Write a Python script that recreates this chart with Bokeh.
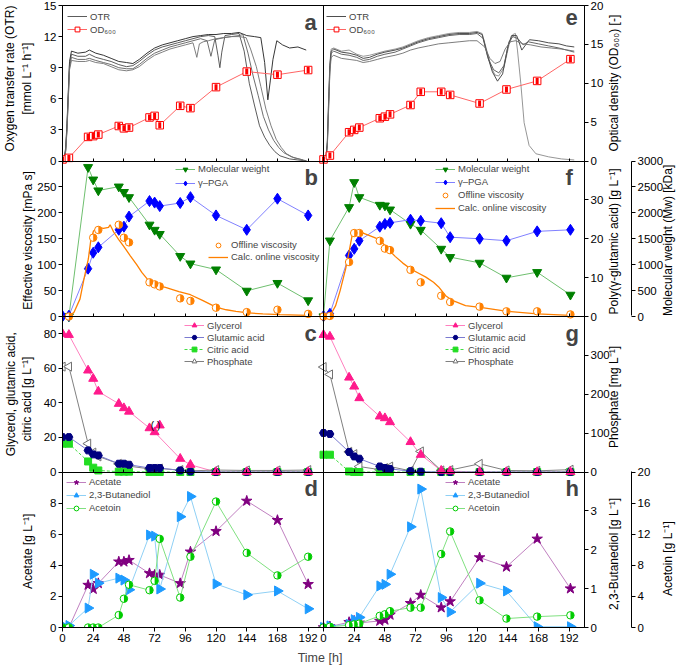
import numpy as np
from bokeh.plotting import figure
from bokeh.models import Range1d, LinearAxis, FixedTicker, Legend, LegendItem, Label
from bokeh.embed import file_html
from bokeh.resources import INLINE
from bokeh.core.properties import value

# ---------------- sampling times (h) ----------------
t_left = [0, 5, 20, 24, 28, 44, 48, 52, 68, 72, 76, 92, 100, 120, 144, 168, 192]
t_right = [0, 5, 20, 24, 28, 44, 48, 52, 68, 76, 92, 99, 122, 143, 167, 193]

# ---------------- a: OTR replicates (mmol L-1 h-1) ----------------
otr_a1_t = [0, 1.5, 2.5, 3.5, 4.5, 5.5, 7, 12, 18, 21, 26, 32, 38, 44, 50, 55, 60, 66, 72, 78, 84, 90, 96, 102, 108, 114, 120,
            126, 132, 138, 144, 150, 155, 158, 160.5, 162.5, 164.5, 167.5, 172, 177.5, 184, 190.5]
otr_a1 = [0, 0.4, 1.3, 3.6, 6.6, 9.6, 10.6, 10.4, 10.5, 10.7, 10.4, 10.2, 9.9, 9.6, 9.5, 9.4, 9.8, 10.4, 10.9, 11.2, 11.4, 11.6,
          11.8, 12.0, 12.1, 12.2, 12.2, 12.3, 12.3, 12.4, 12.1, 12.0, 11.9, 9.5, 5.9, 7.8, 9.8, 11.6, 11.2, 10.9, 11.0, 10.7]
otr_a2_t = [0, 1.5, 2.5, 3.5, 4.5, 5.5, 7, 12, 18, 21, 26, 32, 38, 44, 50, 55, 60, 66, 72, 78, 84, 90, 96, 102, 108, 114, 119,
            121.5, 123, 124.5, 127, 132, 138, 142, 146, 150, 154, 158, 162, 166, 170, 177.5, 184, 190.5]
otr_a2 = [0, 0.3, 1.1, 3.3, 6.3, 9.4, 10.3, 10.1, 10.1, 10.3, 10.0, 9.8, 9.6, 9.3, 9.1, 9.2, 9.6, 10.2, 10.7, 11.0, 11.2, 11.4,
          11.6, 11.8, 12.0, 12.1, 12.0, 10.2, 9.0, 10.5, 12.1, 12.2, 12.3, 10.6, 7.5, 5.4, 3.4, 2.3, 1.5, 0.9, 0.5, 0.2, 0.1, 0.0]
otr_a3_t = [0, 1.5, 2.5, 3.5, 4.5, 5.5, 7, 12, 18, 21, 26, 32, 38, 44, 50, 55, 60, 66, 72, 78, 84, 90, 96, 102, 108, 113, 116,
            119, 126, 132, 138, 141, 145, 149, 153, 157, 161, 165, 169, 173, 179, 185, 191]
otr_a3 = [0, 0.3, 1.0, 3.1, 6.0, 9.0, 10.0, 9.8, 9.8, 9.9, 9.7, 9.5, 9.3, 9.0, 8.9, 8.9, 9.3, 9.9, 10.4, 10.7, 11.0, 11.2, 11.4,
          11.6, 11.8, 11.6, 10.1, 11.7, 11.9, 12.0, 12.1, 12.2, 10.4, 8.2, 6.3, 4.3, 3.0, 2.0, 1.3, 0.8, 0.4, 0.2, 0.0]
otr_a4_t = [0, 1.5, 2.5, 3.5, 4.5, 5.5, 7, 12, 18, 21, 26, 32, 38, 44, 50, 55, 60, 66, 72, 78, 84, 90, 96, 102, 105, 107, 110,
            114, 120, 126, 132, 138, 143.5, 147, 151.5, 155, 159, 163, 167, 171, 175, 181, 188]
otr_a4 = [0, 0.2, 0.9, 2.9, 5.8, 8.8, 9.7, 9.6, 9.6, 9.7, 9.5, 9.4, 9.1, 8.8, 8.7, 8.8, 9.1, 9.7, 10.2, 10.5, 10.8, 11.0, 11.2,
          11.4, 10.0, 11.3, 11.5, 11.6, 11.8, 11.9, 12.0, 12.0, 11.9, 10.8, 9.1, 7.2, 5.0, 3.4, 2.1, 1.3, 0.7, 0.3, 0.1]

# ---------------- e: OTR replicates ----------------
otr_e1_t = [0, 2, 3, 4, 5, 6, 8, 14, 20, 26, 31, 36, 42, 48, 56, 62, 68, 74, 82, 90, 98, 106, 114, 120, 124, 128, 131, 134, 137,
            141, 145, 148, 150, 151.6, 154.2, 156.8, 160.7, 166, 176, 186, 196]
otr_e1 = [0, 0.5, 2.0, 6.0, 9.5, 10.8, 10.9, 10.6, 10.7, 10.3, 10.1, 10.2, 10.4, 10.6, 10.8, 11.0, 11.3, 11.6, 11.9, 12.1, 12.3,
          12.4, 12.4, 12.5, 12.3, 10.5, 9.1, 8.3, 8.2, 9.0, 11.2, 12.2, 12.3, 10.7, 7.5, 3.7, 1.5, 0.7, 0.4, 0.2, 0.1]
otr_e2_t = [0, 2, 3, 4, 5, 6, 8, 14, 20, 26, 31, 36, 42, 48, 56, 62, 68, 74, 82, 90, 98, 106, 114, 120, 124, 128, 132, 136, 140,
            144, 147, 151, 155, 158, 161, 168, 176, 184, 190, 196]
otr_e2 = [0, 0.4, 1.8, 5.7, 9.2, 10.6, 10.8, 10.5, 10.4, 10.2, 9.9, 10.0, 10.3, 10.5, 10.7, 10.9, 11.2, 11.5, 11.8, 12.0, 12.2,
          12.3, 12.3, 12.4, 12.2, 10.2, 8.6, 7.7, 8.4, 11.0, 12.1, 12.1, 10.7, 11.2, 11.7, 11.6, 11.4, 11.3, 11.1, 11.0]
otr_e3_t = [0, 2, 3, 4, 5, 6, 8, 14, 20, 26, 31, 36, 42, 48, 56, 62, 68, 74, 82, 90, 98, 106, 114, 120, 125, 129, 133, 137, 141,
            145, 148, 152, 156, 160, 168, 176, 184, 190, 196]
otr_e3 = [0, 0.3, 1.5, 5.2, 8.9, 10.4, 10.6, 10.3, 10.2, 10.0, 9.7, 9.8, 10.1, 10.3, 10.5, 10.8, 11.1, 11.4, 11.7, 11.9, 12.1,
          12.2, 12.2, 12.3, 11.8, 9.8, 8.8, 8.5, 9.2, 11.5, 12.0, 11.8, 11.2, 11.5, 11.3, 11.1, 10.9, 10.7, 10.5]
otr_e4_t = [0, 2, 3, 4, 5, 6, 8, 14, 20, 26, 31, 36, 42, 48, 56, 62, 68, 74, 82, 90, 98, 106, 114, 120, 126, 130, 134, 138, 142,
            146, 150, 156, 162, 170, 178, 186, 196]
otr_e4 = [0, 0.3, 1.4, 5.0, 8.6, 10.0, 10.2, 9.9, 9.8, 9.7, 9.5, 9.6, 9.8, 10.0, 10.2, 10.4, 10.7, 10.9, 11.1, 11.3, 11.4, 11.5,
          11.6, 11.6, 11.0, 9.9, 9.4, 9.6, 10.8, 11.5, 11.6, 11.3, 11.2, 11.0, 10.9, 10.8, 10.6]

# ---------------- OD600 ----------------
od_a = [0.2, 0.4, 3.1, 3.2, 3.4, 4.5, 4.2, 4.3, 5.6, 5.8, 4.6, 7.1, 6.8, 9.5, 11.5, 11.1, 11.7]
od_e = [0.2, 0.7, 3.7, 4.0, 4.3, 5.5, 5.7, 6.0, 7.2, 8.9, 8.9, 8.5, 7.4, 9.2, 10.3, 13.1]

# ---------------- b / f: molecular weight (kDa), gamma-PGA (g/L), viscosity (mPa s) ----------------
mw_b = [0, 0, 2880, 2640, 2430, 2505, 2400, 2300, 1770, 1670, 1590, 1165, 1020, 905, 495, 645, 310]
pga_b = [0.1, 0.2, 12.3, 16.4, 17.8, 22.3, 23.1, 25.7, 29.7, 29.3, 28.4, 29.2, 30.7, 26.0, 22.3, 30.3, 26.0]
visc_off_t_b = [5, 24, 28, 44, 48, 52, 68, 72, 76, 92, 100, 120, 144, 168, 192]
visc_off_b = [0, 152, 167, 177, 152, 143, 66, 62, 58, 35, 30, 17, 8.5, 13, 5]
visc_calc_t_b = [0, 5, 9, 13.7, 17, 20.2, 22, 24.2, 28, 32, 36, 37.2, 40, 43.8, 48, 53, 58, 62, 66, 70, 75, 80.5, 86, 91, 100,
                 109.4, 120, 128, 135.6, 145, 156.6, 170, 192]
visc_calc_b = [0, 0, 8, 34, 75, 111, 145, 165, 172, 170, 172, 177, 163, 149, 135, 117, 100, 85, 73, 63, 59, 56, 52, 48, 42, 31,
               18, 13, 10, 7, 5, 3.5, 2]

mw_f = [0, 1464, 2108, 2590, 2300, 2152, 2139, 2062, 1786, 1670, 1304, 1145, 1035, 746, 855, 418]
pga_f = [0.1, 0.7, 15.7, 17.4, 19.5, 23.1, 23.8, 24.1, 24.9, 24.6, 24.0, 20.4, 20.0, 19.5, 21.9, 22.3]
visc_off_f = [0, 1, 105, 161, 161, 146, 131, 128, 90, 66, 40, 28, 19, 10, 10, 4]
visc_calc_t_f = [0, 5, 9.5, 13, 17.3, 20, 22.5, 25, 28, 32, 36, 40, 44, 48.6, 56, 62, 68, 74, 80, 86, 90, 95.5, 100.7, 111,
                 124, 143.7, 167, 193]
visc_calc_f = [0, 1, 21, 50, 92, 125, 158, 165, 164, 160, 156, 152, 148, 135, 116, 103, 92, 84, 76, 66, 57, 40, 31, 21, 17,
               10, 5, 2]

# ---------------- c / g: substrates (g/L), phosphate (mg/L) ----------------
gly_c = [80, 79.4, 58.8, 54, 46.6, 39.5, 37, 35, 25.4, 23.1, 27, 7.7, 4.2, 0, 0, 0, 0]
glu_c = [20.2, 20.2, 12.5, 10.2, 9.6, 4.8, 4.8, 4.2, 2.3, 2.3, 2.3, 0.9, 0.3, 0, 0, 0, 0]
cit_c = [16.4, 16.4, 6.1, 2.5, 0.9, 0.2, 0.2, 0.2, 0, 0, 0, 0, 0, 0, 0, 0, 0]
pho_c = [271, 271, 73, 50, 40, 21, 18, 15, 8, 8, 9, 5, 3, 5, 4, 4, 5]
gly_c_bracketed = 10  # index of the value shown in brackets (76 h)

gly_g = [79.4, 78.4, 54.7, 49.5, 42.8, 32.2, 31.2, 28.9, 17.4, 10, 0.8, 0.5, 0, 0, 0, 0]
glu_g = [22.6, 22.0, 11.6, 9.0, 7.7, 3.2, 2.3, 1.8, 0.5, 0.2, 0, 0, 0, 0, 0, 0]
cit_g = [10, 10, 0.3, 0, 0, 0, 0, 0, 0, 0, 0, 0, 0, 0, 0, 0]
pho_g = [270, 251, 52, 46, 14, 6, 10, 14, 3, 53, 4, 5, 21, 4, 3, 6]

# ---------------- d / h: by-products (g/L) ----------------
ace_d = [0, 0, 2.73, 2.47, 2.84, 4.23, 4.23, 4.33, 3.48, 3.38, 3.38, 2.84, 4.87, 6.19, 8.14, 6.9, 2.78]
bdo_d = [0.05, 0.05, 0.5, 1.37, 1.14, 1.27, 1.22, 0.97, 2.38, 2.35, 0.99, 2.85, 3.37, 1.12, 0.84, 0.94, 0.48]
atn_d = [0, 0, 0, 0, 0, 1.6, 3.7, 5.5, 4.8, 6.0, 11.4, 3.85, 9.1, 16.2, 9.6, 6.7, 9.1]

ace_h = [0, 0.06, 0.34, 0.42, 0.3, 0.42, 0.49, 0.81, 1.56, 2.09, 1.28, 1.67, 4.5, 3.9, 5.7, 2.5]
bdo_h = [0, 0.04, 0.08, 0.2, 0.26, 1.07, 1.11, 1.37, 2.59, 3.56, 0.77, 0.40, 1.14, 0.94, 0.02, 0.02]
atn_h = [0, 0.1, 0.3, 0.4, 0.5, 1.5, 1.7, 2.1, 2.55, 2.55, 9.45, 12.35, 3.5, 1.15, 1.4, 1.57]

# ---------------- axis ticks ----------------
x_ticks = [0, 24, 48, 72, 96, 120, 144, 168, 192]
otr_ticks = [0, 3, 6, 9, 12, 15]
od_ticks = [0, 5, 10, 15, 20]
visc_ticks = [0, 50, 100, 150, 200, 250]
pga_ticks = [0, 10, 20, 30]
mw_ticks = [0, 500, 1000, 1500, 2000, 2500, 3000]
conc_ticks = [0, 20, 40, 60, 80]
pho_ticks = [0, 100, 200, 300]
ace_ticks = [0, 2, 4, 6, 8]
bdo_ticks = [0, 1, 2, 3]
atn_ticks = [0, 4, 8, 12, 16, 20]

# ================= layout =================
FONT = "Liberation Sans"
XMAX = 204
FW = 261          # frame width of one column
PH = 155.5        # frame height of one panel
TITLE_PX = 12
p = figure(frame_width=2 * FW, frame_height=int(4 * PH), x_range=Range1d(0, 2 * XMAX), y_range=Range1d(0, 4),
           x_axis_type=None, y_axis_type=None, output_backend="svg", toolbar_location=None,
           min_border_left=54, min_border_right=107, min_border_top=5, min_border_bottom=40)
p.extra_x_ranges = {"R": Range1d(-XMAX, XMAX)}

# panel scales: each quantity gets its own range placed in its panel (row 0 = top)
PANEL = {"otr": (0, 15, 0), "od": (0, 20, 0), "visc": (0, 300, 1), "pga": (0, 40, 1), "mw": (0, 3000, 1),
         "conc": (0, 90, 2), "phos": (0, 400, 2), "acet": (0, 10, 3), "bdo": (0, 4, 3), "atn": (0, 20, 3)}


def prange(lo, hi, row):
    span = hi - lo
    return Range1d(lo - (3 - row) * span, lo + (row + 1) * span)


p.extra_y_ranges = {k: prange(*v) for k, v in PANEL.items()}
p.outline_line_color = "black"
p.outline_line_width = 1
p.background_fill_color = "white"
p.border_fill_color = "white"

TICKS = dict(major_tick_out=4, major_tick_in=0, minor_tick_out=0, minor_tick_in=0, major_label_standoff=2,
             major_label_text_font=FONT, major_label_text_font_size="11.5px", major_label_text_color="black",
             axis_line_color="black", major_tick_line_color="black")
TITLES = dict(major_tick_out=0, major_tick_in=0, minor_tick_out=0, minor_tick_in=0, major_tick_line_color=None,
              axis_line_color=None, major_label_text_font=FONT, major_label_text_font_size="%spx" % TITLE_PX,
              major_label_text_color="black")

# approximate advance widths (em) of the sans-serif face, used to centre rotated titles
CHAR_EM = {" ": .278, "(": .333, ")": .333, "[": .278, "]": .278, "-": .333, ",": .278, ".": .278, "\u03b3": .5,
           "\u207b": .5, "\u00b9": .333, "\u2086": .4, "\u2080": .4, "a": .556, "b": .556, "c": .5, "d": .556,
           "e": .556, "f": .278, "g": .556, "h": .556, "i": .222, "k": .5, "l": .222, "m": .833, "n": .556,
           "o": .556, "p": .556, "r": .333, "s": .5, "t": .278, "u": .556, "v": .5, "w": .722, "x": .5, "y": .5,
           "A": .667, "B": .667, "D": .722, "L": .556, "M": .833, "O": .778, "P": .667}


def text_units(s):
    return sum(CHAR_EM.get(ch, .556) for ch in s) * TITLE_PX / PH


def panel_pos(name, v):
    lo, hi, row = PANEL[name]
    return (3 - row) + (v - lo) / (hi - lo)


def tick_axis(groups, side, **kw):
    pos, labels = [], {}
    for name, vals in groups:
        for v in vals:
            y = panel_pos(name, v)
            pos.append(y)
            labels[y] = str(v)
    ax = LinearAxis(ticker=FixedTicker(ticks=pos), major_label_overrides=labels, **dict(TICKS, **kw))
    p.add_layout(ax, side)


def title_axis(entries, side, standoff, orientation, start_anchored=False):
    labels = {}
    for centre, text in entries:
        y = centre - text_units(text) / 2 if start_anchored else centre
        labels[y] = text
    ax = LinearAxis(ticker=FixedTicker(ticks=list(labels)), major_label_overrides=labels,
                    major_label_standoff=standoff, major_label_orientation=orientation, **TITLES)
    p.add_layout(ax, side)


# left side: ticks, inner titles, outer titles
tick_axis([("otr", otr_ticks), ("visc", visc_ticks), ("conc", conc_ticks), ("acet", ace_ticks)], "left")
title_axis([(3.53, "[mmol L\u207b\u00b9 h\u207b\u00b9]"), (2.5, "Effective viscosity  [mPa s]"),
            (1.48, "citric acid  [g L\u207b\u00b9]"), (0.5, "Acetate  [g L\u207b\u00b9]")], "left", 0, "vertical")
title_axis([(3.53, "Oxygen transfer rate (OTR)"), (1.5, "Glycerol, glutamic acid,")], "left", 0, "vertical")

# right side: ticks, inner titles, spacer, second ticks (bracketed), outer titles
tick_axis([("od", od_ticks), ("pga", pga_ticks), ("phos", pho_ticks), ("bdo", bdo_ticks)], "right")
title_axis([(3.51, "Optical density (OD\u2086\u2080\u2080)  [-]"),
            (2.5, "Poly(\u03b3-glutamic acid)  [g L\u207b\u00b9]"),
            (1.5, "Phosphate  [mg L\u207b\u00b9]"), (0.49, "2,3-Butanediol  [g L\u207b\u00b9]")],
           "right", 2, np.pi / 2, start_anchored=True)
spacer = LinearAxis(ticker=FixedTicker(ticks=[]), **dict(TITLES, major_tick_out=5))
p.add_layout(spacer, "right")
seg = int(round(PH))
tick_axis([("mw", mw_ticks), ("atn", atn_ticks)], "right", bounds=(0, 3), axis_line_dash="%d %d" % (seg, seg))
title_axis([(2.5, "Molecular weight (Mw)  [kDa]"), (0.46, "Acetoin  [g L\u207b\u00b9]")], "right", 2, np.pi / 2,
           start_anchored=True)

# bottom: one time axis for both columns
xpos, xlab = [], {}
for off in [0, XMAX]:
    for v in x_ticks:
        xpos.append(off + v)
        xlab[off + v] = str(v)
bottom = LinearAxis(ticker=FixedTicker(ticks=xpos), major_label_overrides=xlab, axis_label="Time   [h]",
                    axis_label_text_font=FONT, axis_label_text_font_size="12.5px", axis_label_text_font_style="normal",
                    axis_label_standoff=6, **TICKS)
p.add_layout(bottom, "below")

# panel borders inside the frame
INNER = dict(TICKS, major_tick_out=0, major_tick_in=3, major_label_text_color=None)
for xr in ["default", "R"]:
    for k in [1, 2, 3]:
        ax = LinearAxis(x_range_name=xr, fixed_location=k, bounds=(0, XMAX), ticker=FixedTicker(ticks=x_ticks), **INNER)
        p.add_layout(ax, "below")
sep = LinearAxis(x_range_name="default", fixed_location=XMAX, bounds=(0, 4), ticker=FixedTicker(ticks=[]),
                 **dict(TICKS, major_tick_out=0, major_label_text_color=None))
p.add_layout(sep, "left")

# ---------------- glyph helpers ----------------
def ln(x, y, xr, yr, color, width=1.0, dash="solid"):
    return p.line(x, y, x_range_name=xr, y_range_name=yr, line_color=color, line_width=width, line_dash=dash)


def mk(x, y, xr, yr, marker, color, size, fill=None, angle=0.0):
    return p.scatter(x, y, x_range_name=xr, y_range_name=yr, marker=marker, size=size,
                     fill_color=color if fill is None else fill, line_color=color, line_width=1, angle=angle)


def half_circle(x, y, xr, yr, color):
    c = mk(x, y, xr, yr, "circle", color, 7.5, fill="white")
    p.wedge(x, y, radius=3.6, radius_units="screen", start_angle=-np.pi / 2, end_angle=np.pi / 2,
            fill_color=color, line_color=None, x_range_name=xr, y_range_name=yr)
    return c


def half_square(x, y, xr, yr, color):
    s = mk(x, y, xr, yr, "square", color, 7.5, fill="white")
    p.rect(x, y, width=3, height=6, width_units="screen", height_units="screen", fill_color=color,
           line_color=None, x_range_name=xr, y_range_name=yr)
    return s


def add_legend(entries, x, top, spacing=0):
    n = len(entries)
    h = n * 12 + (n - 1) * spacing
    lg = Legend(items=[LegendItem(label=lab, renderers=rs) for lab, rs in entries], location=(x, top - h),
                label_text_font=FONT, label_text_font_size="9.5px", label_height=12, glyph_height=12,
                glyph_width=20, label_standoff=3, padding=0, margin=0, spacing=spacing,
                border_line_color=None, background_fill_alpha=0)
    p.add_layout(lg)


def panel_top(row):
    return (4 - row) * PH


OTR_COLS_A = ["#1f1f1f", "#4a4a4a", "#5e5e5e", "#707070"]
OTR_COLS_E = ["#8a8a8a", "#3a3a3a", "#555555", "#6e6e6e"]

# ---------------- panels a / e ----------------
for xr, curves, cols, tt, od, col0, lx in [
    ("default", [(otr_a1_t, otr_a1), (otr_a2_t, otr_a2), (otr_a3_t, otr_a3), (otr_a4_t, otr_a4)], OTR_COLS_A, t_left, od_a, 0, 5),
    ("R", [(otr_e1_t, otr_e1), (otr_e2_t, otr_e2), (otr_e3_t, otr_e3), (otr_e4_t, otr_e4)], OTR_COLS_E, t_right, od_e, FW, 3),
]:
    rs = [ln(ct, cv, xr, "otr", c, 0.9) for (ct, cv), c in zip(curves, cols)]
    odl = ln(tt, od, xr, "od", "#ff6464", 1.0)
    ods = half_square(tt, od, xr, "od", "#ff0000")
    add_legend([("OTR", [rs[1]]), ("OD\u2086\u2080\u2080", [odl, ods])], col0 + lx, panel_top(0) - 5, spacing=1)

# ---------------- panels b / f ----------------
GREEN_MW, BLUE_PGA, ORANGE = "#008000", "#0000ff", "#ff8000"
mwl = ln(t_left, mw_b, "default", "mw", "#6fbf6f")
mwm = mk(t_left, mw_b, "default", "mw", "inverted_triangle", GREEN_MW, 9)
pgl = ln(t_left, pga_b, "default", "pga", "#8080ff")
pgm = mk(t_left, pga_b, "default", "pga", "diamond", BLUE_PGA, 11)
cal = ln(visc_calc_t_b, visc_calc_b, "default", "visc", ORANGE, 1.3)
ofm = half_circle(visc_off_t_b, visc_off_b, "default", "visc", ORANGE)
add_legend([("Molecular weight", [mwl, mwm]), ("\u03b3\u2013PGA", [pgl, pgm])], 113, panel_top(1) - 2, spacing=2)
add_legend([("Offline viscosity", [ofm]), ("Calc. online viscosity", [cal])], 146, panel_top(1) - 78, spacing=0)

mwl = ln(t_right, mw_f, "R", "mw", "#6fbf6f")
mwm = mk(t_right, mw_f, "R", "mw", "inverted_triangle", GREEN_MW, 9)
pgl = ln(t_right, pga_f, "R", "pga", "#8080ff")
pgm = mk(t_right, pga_f, "R", "pga", "diamond", BLUE_PGA, 11)
cal = ln(visc_calc_t_f, visc_calc_f, "R", "visc", ORANGE, 1.3)
ofm = half_circle(t_right, visc_off_f, "R", "visc", ORANGE)
add_legend([("Molecular weight", [mwl, mwm]), ("\u03b3\u2013PGA", [pgl, pgm]), ("Offline viscosity", [ofm]),
            ("Calc. online viscosity", [cal])], FW + 112, panel_top(1) - 2, spacing=1)

# ---------------- panels c / g ----------------
PINK, NAVY, LIME, GRAY = "#ff1a8c", "#000080", "#22dd22", "#707070"
for xr, tt, gly, glu, cit, pho, col0 in [("default", t_left, gly_c, glu_c, cit_c, pho_c, 0),
                                          ("R", t_right, gly_g, glu_g, cit_g, pho_g, FW)]:
    if xr == "default":
        idx = [i for i in range(len(tt)) if i != gly_c_bracketed]
        gl = ln([tt[i] for i in idx], [gly[i] for i in idx], xr, "conc", "#ff80bf")
    else:
        gl = ln(tt, gly, xr, "conc", "#ff80bf")
    phl = ln(tt, pho, xr, "phos", "#808080")
    phm = mk(tt, pho, xr, "phos", "triangle", GRAY, 9, fill="white", angle=np.pi / 2)
    cl = ln(tt, cit, xr, "conc", "#44dd44", 1.0, "3 2")
    cm = mk(tt, cit, xr, "conc", "square", LIME, 7)
    ul = ln(tt, glu, xr, "conc", "#7b7bd0")
    um = mk(tt, glu, xr, "conc", "hex", NAVY, 8)
    gm = mk(tt, gly, xr, "conc", "triangle", PINK, 9)
    add_legend([("Glycerol", [gl, gm]), ("Glutamic acid", [ul, um]), ("Citric acid", [cl, cm]),
                ("Phosphate", [phl, phm])], col0 + 122, panel_top(2) - 3)

p.text(x=[t_left[gly_c_bracketed]], y=[gly_c[gly_c_bracketed]], text=["(    )"], x_range_name="default",
       y_range_name="conc", text_font=value(FONT), text_font_size="10px", text_align="center",
       text_baseline="middle", text_color="black")

# ---------------- panels d / h ----------------
PURPLE, SKY, GREEN_A = "#800080", "#1e9bff", "#00cc00"
for xr, tt, ace, bdo, atn, col0 in [("default", t_left, ace_d, bdo_d, atn_d, 0), ("R", t_right, ace_h, bdo_h, atn_h, FW)]:
    al = ln(tt, ace, xr, "acet", "#c080c0")
    am = mk(tt, ace, xr, "acet", "star", PURPLE, 11)
    bl = ln(tt, bdo, xr, "bdo", "#8fd0f5")
    bm = mk(tt, bdo, xr, "bdo", "triangle", SKY, 10, angle=-np.pi / 2)
    tl = ln(tt, atn, xr, "atn", "#80e080")
    tm = half_circle(tt, atn, xr, "atn", GREEN_A)
    lx = 4 if xr == "default" else 122
    add_legend([("Acetate", [al, am]), ("2,3-Butanediol", [bl, bm]), ("Acetoin", [tl, tm])], col0 + lx,
               panel_top(3) - 4, spacing=1)

# ---------------- panel letters ----------------
for col, letters in [(0, "abcd"), (1, "efgh")]:
    for i, letter in enumerate(letters):
        p.add_layout(Label(x=(col + 1) * FW - 19, y=panel_top(i) - 4, x_units="screen", y_units="screen",
                           text=letter, text_font=FONT, text_font_size="22px", text_font_style="bold",
                           text_align="left", text_baseline="top"))

open("out.html", "w").write(file_html(p, INLINE))
